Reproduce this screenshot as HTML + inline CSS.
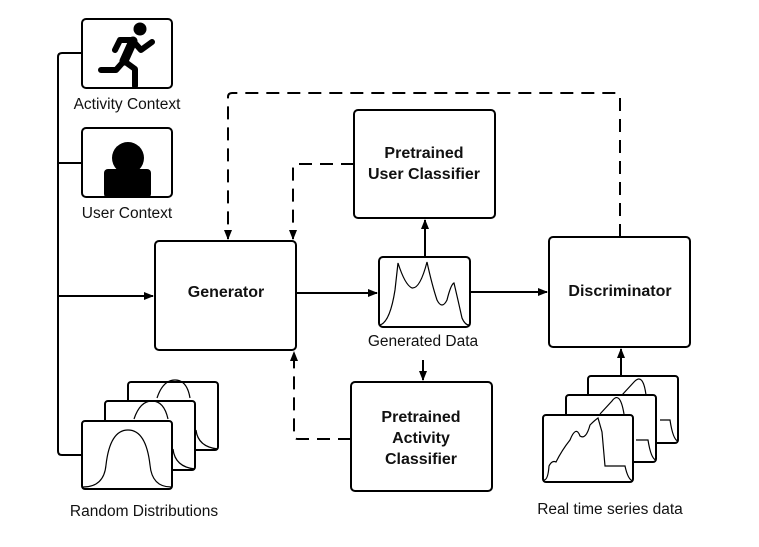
<!DOCTYPE html>
<html><head><meta charset="utf-8"><style>
html,body{margin:0;padding:0;background:#fff;}
svg{display:block;}
text{font-family:"Liberation Sans",sans-serif;fill:#111;}
.b{font-weight:bold;font-size:16px;}
.l{font-size:15.5px;}
</style></head><body>
<svg width="759" height="547" viewBox="0 0 759 547" xmlns="http://www.w3.org/2000/svg">
<defs>
<marker id="a" markerWidth="10" markerHeight="10" refX="9" refY="5" orient="auto" markerUnits="userSpaceOnUse">
<path d="M0,1 L10,5 L0,9 Z" fill="#000"/></marker>
</defs>
<g fill="none" stroke="#000" stroke-width="2">
<path d="M82,53 H62 Q58,53 58,57 V451 Q58,455 62,455 H82"/>
<path d="M58,163 H82"/>
<path d="M58,296 H153" marker-end="url(#a)"/>
<rect x="82" y="19" width="90" height="69" rx="4"/>
<rect x="82" y="128" width="90" height="69" rx="4"/>
<rect x="155" y="241" width="141" height="109" rx="4"/>
<rect x="354" y="110" width="141" height="108" rx="4"/>
<rect x="351" y="382" width="141" height="109" rx="4"/>
<rect x="549" y="237" width="141" height="110" rx="4"/>
<rect x="379" y="257" width="91" height="70" rx="4"/>
<path d="M296,293 H377" marker-end="url(#a)"/>
<path d="M470,292 H547" marker-end="url(#a)"/>
<path d="M425,257 V220" marker-end="url(#a)"/>
<path d="M423,360 V380" marker-end="url(#a)"/>
<path d="M621,376 V349" marker-end="url(#a)"/>
</g>
<g fill="none" stroke="#000" stroke-width="2" stroke-dasharray="13,8">
<path d="M620,237 V97 Q620,93 616,93 H232 Q228,93 228,97 V239" marker-end="url(#a)"/>
<path d="M354,164 H297 Q293,164 293,168 V239" marker-end="url(#a)"/>
<path d="M351,439 H298 Q294,439 294,435 V352" marker-end="url(#a)"/>
</g>
<!-- runner icon -->
<g fill="none" stroke="#000" stroke-linecap="round" stroke-linejoin="round">
<circle cx="140" cy="29" r="6.5" fill="#000" stroke="none"/>
<path d="M133,41 L124,61" stroke-width="9"/>
<path d="M133,40 H120 L115,50" stroke-width="6"/>
<path d="M133,41 L141,50 L152,42" stroke-width="6"/>
<path d="M124,61 L135,69 L135,86" stroke-width="6"/>
<path d="M124,61 L116,70 H101" stroke-width="6"/>
</g>
<circle cx="128" cy="158" r="16" fill="#000"/>
<rect x="104" y="169" width="47" height="29" rx="4" fill="#000"/>
<!-- random distributions -->
<g fill="#fff" stroke="#000" stroke-width="2">
<rect x="128" y="382" width="90" height="68" rx="3"/>
<path d="M157,398 Q163,380 175,380 Q187,380 190,398" fill="none" stroke-width="1.2"/>
<path d="M196,430 Q198,447 218,449" fill="none" stroke-width="1.2"/>
<rect x="105" y="401" width="90" height="69" rx="3"/>
<path d="M134,419 Q140,401 152,401 Q164,401 168,419" fill="none" stroke-width="1.2"/>
<path d="M173,449 Q175,467 195,469" fill="none" stroke-width="1.2"/>
<rect x="82" y="421" width="90" height="68" rx="3"/>
<path d="M83,487 Q104,487 106,465 Q110,430 128,430 Q146,430 150,465 Q152,487 171,487" fill="none" stroke-width="1.2"/>
</g>
<!-- real data -->
<g fill="#fff" stroke="#000" stroke-width="2">
<rect x="588" y="376" width="90" height="67" rx="3"/>
<path d="M622,395 L634,382 Q643,372 646,395 M660,420 H670 Q673,440 678,441" fill="none" stroke-width="1.2"/>
<rect x="566" y="395" width="90" height="67" rx="3"/>
<path d="M600,414 L612,401 Q620,390 624,414 M636,440 H648 Q651,459 656,460" fill="none" stroke-width="1.2"/>
<rect x="543" y="415" width="90" height="67" rx="3"/>
<path d="M544,480 Q548,480 549,466 Q552,460 556,462 Q562,450 570,440 Q576,425 580,436 Q586,440 590,425 Q595,420 598,418 L602,432 L605,466 L625,466 Q628,480 633,481" fill="none" stroke-width="1.2"/>
</g>
<path d="M380,325 Q390,322 395,290 L398,263 Q405,285 412,288 Q420,289 427,262 Q432,285 437,300 Q442,310 447,300 Q451,284 454,283 Q458,300 462,318 Q465,325 469,325" fill="none" stroke="#000" stroke-width="1.2"/>
<text class="l" x="127" y="109" text-anchor="middle">Activity Context</text>
<text class="l" x="127" y="218" text-anchor="middle">User Context</text>
<text class="l" x="423" y="346" text-anchor="middle">Generated Data</text>
<text class="l" x="144" y="516" text-anchor="middle">Random Distributions</text>
<text class="l" x="610" y="514" text-anchor="middle">Real time series data</text>
<text class="b" x="226" y="297" text-anchor="middle">Generator</text>
<text class="b" x="620" y="296" text-anchor="middle">Discriminator</text>
<text class="b" x="424" y="158" text-anchor="middle">Pretrained</text>
<text class="b" x="424" y="179" text-anchor="middle">User Classifier</text>
<text class="b" x="421" y="422" text-anchor="middle">Pretrained</text>
<text class="b" x="421" y="443" text-anchor="middle">Activity</text>
<text class="b" x="421" y="464" text-anchor="middle">Classifier</text>
</svg>
</body></html>
